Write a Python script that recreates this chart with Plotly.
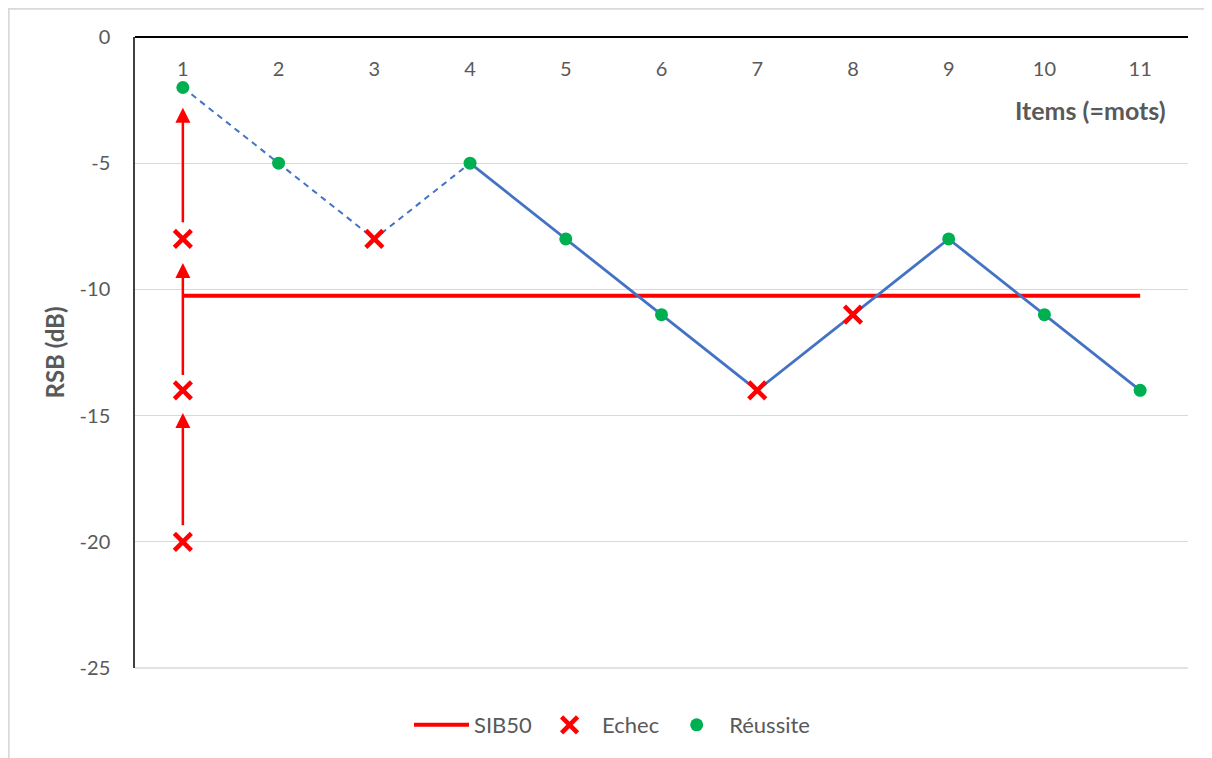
import plotly.graph_objects as go

# ---- data ----
items = [1, 2, 3, 4, 5, 6, 7, 8, 9, 10, 11]
tick_labels = ["1", "2", "3", "4", "5", "6", "7", "8", "9", "10", "11"]

# adaptive track (dashed part: items 1-4, solid part: items 4-11)
track_dashed_x = [1, 2, 3, 4]
track_dashed_y = [-2, -5, -8, -5]
track_solid_x = [4, 5, 6, 7, 8, 9, 10, 11]
track_solid_y = [-5, -8, -11, -14, -11, -8, -11, -14]

# SIB50 level
sib50_x = [1, 11]
sib50_y = [-10.25, -10.25]

# Echec (failures)
echec_x = [1, 1, 1, 3, 7, 8]
echec_y = [-20, -14, -8, -8, -14, -11]

# Réussite (successes)
reussite_x = [1, 2, 4, 5, 6, 9, 10, 11]
reussite_y = [-2, -5, -5, -8, -11, -8, -11, -14]

# initial ascending arrows on item 1 (tail -> tip)
arrow_x = [1, 1, 1]
arrow_from = [-19.4, -13.45, -7.4]
arrow_to = [-14.9, -8.95, -2.8]

y_ticks = [0, -5, -10, -15, -20, -25]
y_tick_labels = ["0", "-5", "-10", "-15", "-20", "-25"]

FONT = "Lato"
GREY = "#595959"
RED = "#FF0000"
BLUE = "#4472C4"
GREEN = "#00B050"

# figure geometry (page has an 8px body margin)
W, H = 1204, 750
L, R, T, B = 127, 24, 29, 90
PW, PH = W - L - R, H - T - B

fig = go.Figure()

fig.add_trace(go.Scatter(x=sib50_x, y=sib50_y, mode="lines", name="SIB50",
                         line=dict(color=RED, width=4)))
fig.add_trace(go.Scatter(x=track_dashed_x, y=track_dashed_y, mode="lines",
                         line=dict(color=BLUE, width=2, dash="6px,5px"),
                         showlegend=False, hoverinfo="skip"))
fig.add_trace(go.Scatter(x=track_solid_x, y=track_solid_y, mode="lines",
                         line=dict(color=BLUE, width=2.8),
                         showlegend=False, hoverinfo="skip"))
fig.add_trace(go.Scatter(x=echec_x, y=echec_y, mode="markers", name="Echec",
                         marker=dict(symbol="x-thin", size=17,
                                     line=dict(color=RED, width=4.5), color=RED)))
fig.add_trace(go.Scatter(x=reussite_x, y=reussite_y, mode="markers", name="Réussite",
                         marker=dict(symbol="circle", size=13, color=GREEN)))

for xa, y0, y1 in zip(arrow_x, arrow_from, arrow_to):
    fig.add_annotation(x=xa, y=y1, ax=xa, ay=y0, xref="x", yref="y",
                       axref="x", ayref="y", text="", showarrow=True,
                       arrowhead=2, arrowsize=1.2, arrowwidth=2.5,
                       arrowcolor=RED, standoff=0, startstandoff=0)

fig.add_annotation(text="<b>Items (=mots)</b>", x=1.0 - 20 / PW, y=1 - 73 / PH,
                   xref="paper", yref="paper", xanchor="right", yanchor="middle",
                   showarrow=False, font=dict(family=FONT, size=25, color=GREY))

# top axis line (x axis crosses at 0)
fig.add_shape(type="line", xref="paper", yref="paper", x0=0, x1=1, y0=1, y1=1,
              line=dict(color="#000000", width=2))
# bottom gridline at -25
fig.add_shape(type="line", xref="paper", yref="paper", x0=0, x1=1, y0=0, y1=0,
              line=dict(color="#D9D9D9", width=1.3), layer="below")

# chart border (only left/top visible in reference)
fig.add_shape(type="rect", xref="paper", yref="paper",
              x0=(0.7 - L) / PW, x1=2.0, y0=-1.0, y1=1 + (T - 0.7) / PH,
              line=dict(color="#D9D9D9", width=2), fillcolor="rgba(0,0,0,0)")

fig.update_layout(
    width=W, height=H,
    margin=dict(l=L, r=R, t=T, b=B),
    paper_bgcolor="white", plot_bgcolor="white",
    font=dict(family=FONT, size=20, color=GREY),
    showlegend=True,
    legend=dict(orientation="h", x=(612 - 8 - L) / PW, y=-(725 - 8 - (T + PH)) / PH,
                xanchor="center", yanchor="middle",
                font=dict(family=FONT, size=22, color=GREY),
                itemwidth=55, tracegroupgap=0),
    xaxis=dict(range=[0.5, 11.5], tickvals=items, ticktext=tick_labels,
               side="bottom", anchor="free", position=1, ticks="",
               showgrid=False, zeroline=False, showline=False,
               ticklabelstandoff=18, automargin=False,
               tickfont=dict(family=FONT, size=20, color=GREY)),
    yaxis=dict(range=[-25, 0], tickvals=y_ticks, ticktext=y_tick_labels, ticks="",
               showgrid=True, gridcolor="#D9D9D9", gridwidth=1.3,
               zeroline=False, showline=True, linecolor="#404040", linewidth=1.5,
               ticklabelstandoff=19, automargin=False,
               tickfont=dict(family=FONT, size=20, color=GREY),
               title=dict(text="<b>RSB (dB)</b>", standoff=8,
                          font=dict(family=FONT, size=24, color=GREY))),
)

fig.write_html("out.html")
